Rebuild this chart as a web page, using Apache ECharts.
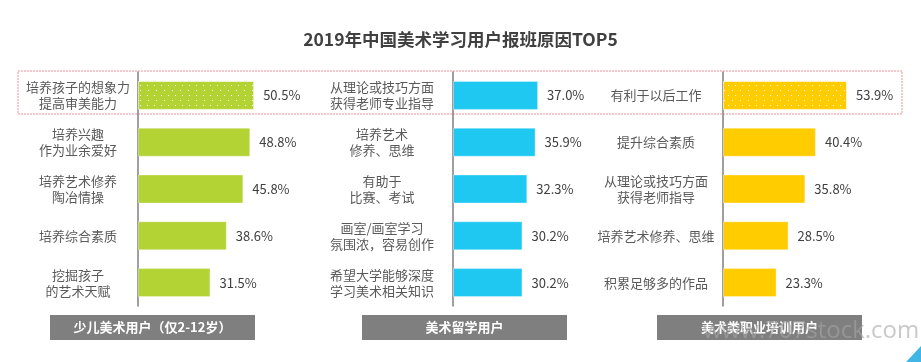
<!DOCTYPE html>
<html><head><meta charset="utf-8">
<script src="https://cdn.jsdelivr.net/npm/echarts@6/dist/echarts.min.js"></script>
<style>html,body{margin:0;padding:0;background:#fff}#c{width:921px;height:362px}</style>
</head><body><div id="c"></div>
<script>
const title = '2019年中国美术学习用户报班原因TOP5';
const groupNames = ['少儿美术用户（仅2-12岁）', '美术留学用户', '美术类职业培训用户'];
const cats1 = ['培养孩子的想象力\n提高审美能力', '培养兴趣\n作为业余爱好', '培养艺术修养\n陶冶情操', '培养综合素质', '挖掘孩子\n的艺术天赋'];
const vals1 = [50.5, 48.8, 45.8, 38.6, 31.5];
const cats2 = ['从理论或技巧方面\n获得老师专业指导', '培养艺术\n修养、思维', '有助于\n比赛、考试', '画室/画室学习\n氛围浓，容易创作', '希望大学能够深度\n学习美术相关知识'];
const vals2 = [37.0, 35.9, 32.3, 30.2, 30.2];
const cats3 = ['有利于以后工作', '提升综合素质', '从理论或技巧方面\n获得老师指导', '培养艺术修养、思维', '积累足够多的作品'];
const vals3 = [53.9, 40.4, 35.8, 28.5, 23.3];

const colors = ['#b3d234', '#1fc8f1', '#ffcc00'];
const dotted = [true, false, true];
const lefts = [138, 453, 723];
const margins = [60, 71, 67];
const catsAll = [cats1, cats2, cats3];
const valsAll = [vals1, vals2, vals3];
const font = '"Noto Sans CJK SC", "Microsoft YaHei", sans-serif';

const grids = [], xAxes = [], yAxes = [], series = [];
for (let i = 0; i < 3; i++) {
  grids.push({left: lefts[i], width: 138, top: 72, height: 234});
  xAxes.push({gridIndex: i, type: 'value', min: 0, max: 60, show: false});
  yAxes.push({
    gridIndex: i, type: 'category', inverse: true, data: catsAll[i],
    axisLine: {show: true, lineStyle: {color: '#7f7f7f', width: 1.5}},
    axisTick: {show: false},
    axisLabel: {align: 'center', margin: margins[i], color: '#595959', fontSize: 13, lineHeight: 16, fontFamily: font}
  });
  series.push({
    type: 'bar', xAxisIndex: i, yAxisIndex: i, barWidth: 29,
    data: valsAll[i].map((v, k) => (k === 0 && dotted[i]) ? {
      value: v,
      itemStyle: {decal: {symbol: 'rect', symbolSize: 1, color: 'rgba(255,255,255,0.9)',
        dashArrayX: [[1, 6], [0, 3.5, 1, 2.5]], dashArrayY: [1, 3.3], rotation: 0}}
    } : v),
    itemStyle: {color: colors[i], borderColor: 'rgba(255,255,255,0.35)', borderWidth: 1},
    label: {show: true, position: 'right', distance: 9, color: '#404040', fontSize: 13, fontFamily: font,
      formatter: p => p.value.toFixed(1) + '%'}
  });
}

const boxes = [[50, 255], [362, 567], [657, 862]];
const graphic = [
  {type: 'rect', shape: {x: 18, y: 71, width: 884, height: 43}, z: 0,
    style: {fill: 'none', stroke: '#f5b5bb', lineWidth: 1.5, lineDash: [2, 1]}},
  {type: 'polygon', shape: {points: [[921, 346], [921, 362], [906, 362]]}, style: {fill: '#41b6e6'}}
];
boxes.forEach((b, i) => {
  graphic.push({type: 'rect', shape: {x: b[0], y: 315, width: b[1] - b[0], height: 25}, z: 10,
    style: {fill: '#7f7f7f'}});
  graphic.push({type: 'text', x: (b[0] + b[1]) / 2, y: 327.5, z: 11,
    style: {text: groupNames[i], fill: '#ffffff', font: 'bold 13px ' + font, align: 'center', verticalAlign: 'middle'}});
});
graphic.push({type: 'text', x: 703, y: 319, z: 20,
  style: {text: 'www.707stock.com', fill: 'rgba(165,165,165,0.6)', font: '24px "Open Sans", sans-serif', verticalAlign: 'top'}});

const chart = echarts.init(document.getElementById('c'), null, {renderer: 'canvas'});
chart.setOption({
  animation: false,
  title: {text: title, left: 'center', top: 26, textStyle: {fontSize: 17.5, fontWeight: 'bold', color: '#404040', fontFamily: font}},
  grid: grids, xAxis: xAxes, yAxis: yAxes, series: series, graphic: graphic
});
</script></body></html>
